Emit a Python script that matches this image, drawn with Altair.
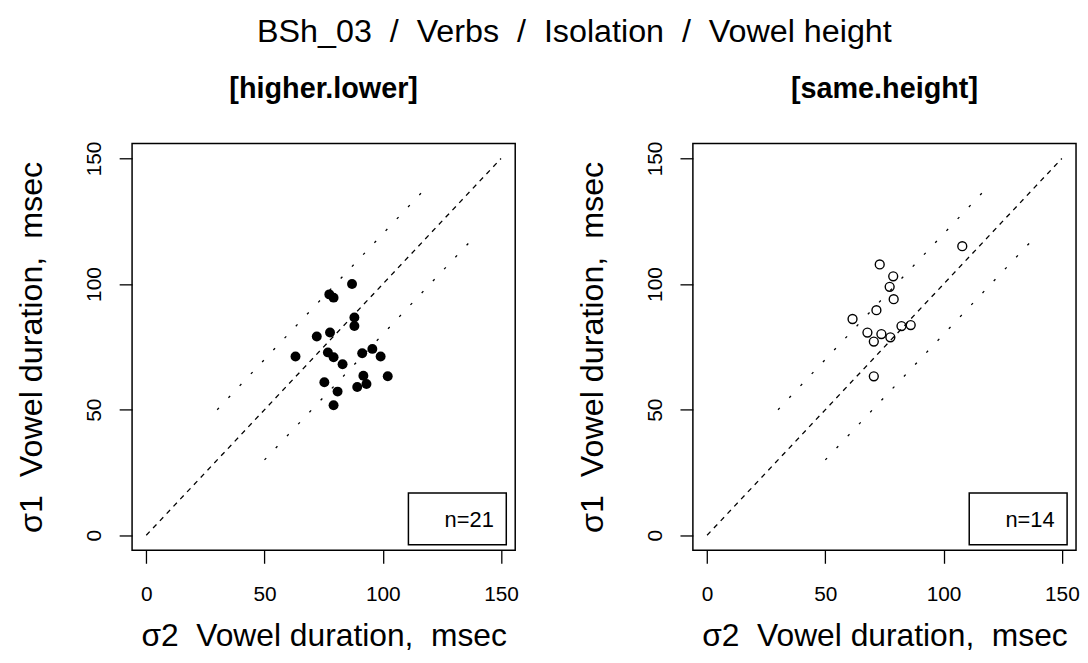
import altair as alt
import pandas as pd

# ---------------- data ----------------
hl_x = [87.0, 77.4, 79.2, 88.0, 88.0, 72.1, 77.7, 63.1, 76.8, 79.2, 83.0,
        91.3, 95.6, 99.1, 102.1, 91.8, 93.1, 89.2, 75.3, 80.9, 79.2]
hl_y = [100.0, 95.9, 94.6, 86.7, 83.3, 79.1, 80.7, 71.2, 72.8, 70.9, 68.1,
        72.5, 74.2, 71.2, 63.3, 63.5, 60.2, 59.0, 60.9, 57.2, 51.8]

sh_x = [73.0, 78.7, 77.2, 78.9, 71.6, 61.5, 107.9, 67.8, 73.7, 70.5, 77.5,
        82.2, 86.1, 70.5]
sh_y = [107.8, 103.1, 98.9, 94.0, 89.6, 86.1, 115.1, 80.7, 80.1, 77.1, 78.8,
        83.3, 83.7, 63.3]

panel_titles = ["[higher.lower]", "[same.height]"]
n_labels = ["n=21", "n=14"]

ref_kind = ["equal", "upper", "lower"]
ref_x1 = [0, 30, 50]
ref_y1 = [0, 50, 30]
ref_x2 = [150, 120, 140]
ref_y2 = [150, 140, 120]

tick_values = [0, 50, 100, 150]
axis_domain = [-6, 156]

main_title = "BSh_03\u00a0\u00a0/\u00a0\u00a0Verbs\u00a0\u00a0/\u00a0\u00a0Isolation\u00a0\u00a0/\u00a0\u00a0Vowel height"
x_title = "\u03c32\u00a0\u00a0Vowel duration,\u00a0\u00a0msec"
y_title = "\u03c31\u00a0\u00a0Vowel duration,\u00a0\u00a0msec"

# ---------------- styling ----------------
FONT = "Liberation Sans"
W, H = 386, 410


def make_panel(xs, ys, title, filled, label):
    pts = pd.DataFrame({"x": xs, "y": ys})
    refs = pd.DataFrame({"kind": ref_kind, "x": ref_x1, "y": ref_y1,
                         "x2": ref_x2, "y2": ref_y2})
    box = pd.DataFrame({"label": [label]})

    xscale = alt.Scale(domain=axis_domain, nice=False, zero=False)
    yscale = alt.Scale(domain=axis_domain, nice=False, zero=False)

    xaxis = alt.Axis(values=tick_values, domain=False, grid=False,
                     tickSize=13, tickColor="black", tickWidth=1.3,
                     labelFont=FONT, labelFontSize=21, labelColor="black",
                     labelPadding=21, labelFlush=False, labelOverlap=False,
                     title=x_title, titleFont=FONT, titleFontSize=32,
                     titleFontWeight="normal", titleColor="black",
                     titleX=W / 2, titleY=96, titleAlign="center",
                     titleBaseline="alphabetic")
    yaxis = alt.Axis(values=tick_values, domain=False, grid=False,
                     tickSize=13, tickColor="black", tickWidth=1.3,
                     labelFont=FONT, labelFontSize=21, labelColor="black",
                     labelAngle=270, labelAlign="center", labelBaseline="bottom",
                     labelPadding=15, labelFlush=False, labelOverlap=False,
                     title=y_title, titleFont=FONT, titleFontSize=32.5,
                     titleFontWeight="normal", titleColor="black",
                     titleAngle=270, titleX=-91, titleY=H / 2,
                     titleAlign="center", titleBaseline="alphabetic")

    lines = alt.Chart(refs).mark_rule(color="black", strokeWidth=1.3).encode(
        x=alt.X("x:Q", scale=xscale, axis=xaxis),
        y=alt.Y("y:Q", scale=yscale, axis=yaxis),
        x2="x2:Q",
        y2="y2:Q",
        strokeDash=alt.StrokeDash(
            "kind:N",
            scale=alt.Scale(domain=ref_kind, range=[[5, 5], [2.5, 14], [2.5, 14]]),
            legend=None),
    )

    if filled:
        pmark = alt.Chart(pts).mark_point(shape="circle", filled=True, size=100,
                                          color="black", opacity=1)
    else:
        pmark = alt.Chart(pts).mark_point(shape="circle", filled=False, size=80,
                                          color="black", strokeWidth=1.4, opacity=1)
    points = pmark.encode(x=alt.X("x:Q", scale=xscale),
                          y=alt.Y("y:Q", scale=yscale))

    rect = alt.Chart(box).mark_rect(fill="white", stroke="black", strokeWidth=1.5).encode(
        x=alt.value(278.4), x2=alt.value(377),
        y=alt.value(352.3), y2=alt.value(404.3))
    text = alt.Chart(box).mark_text(font=FONT, fontSize=22, color="black",
                                    align="right", baseline="alphabetic").encode(
        x=alt.value(364.4), y=alt.value(386.6), text="label:N")

    return alt.layer(lines, points, rect, text).properties(
        width=W, height=H,
        title=alt.TitleParams(title, font=FONT, fontSize=29, fontWeight="bold",
                              color="black", anchor="middle", offset=37.5),
    )


left = make_panel(hl_x, hl_y, panel_titles[0], True, n_labels[0])
right = make_panel(sh_x, sh_y, panel_titles[1], False, n_labels[1])

chart = alt.hconcat(left, right, spacing=179, bounds="flush").properties(
    title=alt.TitleParams(main_title, font=FONT, fontSize=32.5, fontWeight="normal",
                          color="black", anchor="middle", offset=26, dx=27),
    padding={"left": 7, "top": 5, "right": 0, "bottom": 0},
    background="white",
).configure_view(stroke="black", strokeWidth=1.5)

chart.save("out.html", embed_options={"renderer": "svg", "actions": False})
